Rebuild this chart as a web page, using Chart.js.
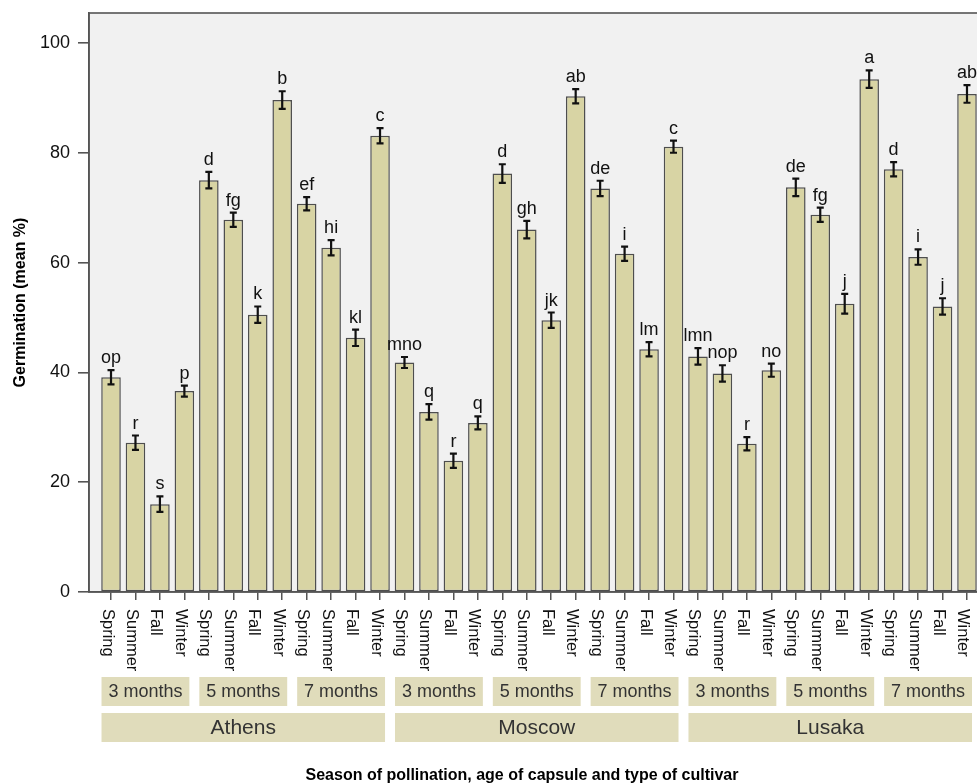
<!DOCTYPE html>
<html>
<head>
<meta charset="utf-8">
<script src="https://cdn.jsdelivr.net/npm/chart.js@4/dist/chart.umd.min.js"></script>
<style>
  html, body { margin: 0; padding: 0; background: #ffffff; overflow: hidden; }
  #wrap { width: 977px; height: 784px; overflow: hidden; position: relative; }
  canvas { display: block; }
</style>
</head>
<body>
<div id="wrap"><canvas id="chart" width="1000" height="784"></canvas></div>
<script>
// Pollination season within each capsule age
const seasons = ['Spring', 'Summer', 'Fall', 'Winter'];
// Capsule ages within each cultivar
const ages = ['3 months', '5 months', '7 months'];
// Cultivars
const cities = ['Athens', 'Moscow', 'Lusaka'];

// Mean germination (%) — order: 3, 5, 7 months × Spring, Summer, Fall, Winter
const athensMeans = [39.1, 27.2, 16.0, 36.6, 75.0, 67.8, 50.5, 89.6, 70.7, 62.7, 46.3, 83.1];
const moscowMeans = [41.8, 32.8, 23.9, 30.8, 76.2, 66.0, 49.5, 90.3, 73.5, 61.6, 44.2, 81.1];
const lusakaMeans = [42.9, 39.8, 27.0, 40.4, 73.7, 68.7, 52.5, 93.4, 77.0, 61.0, 52.0, 90.7];

// Standard errors
const athensErr = [1.3, 1.3, 1.4, 1.0, 1.5, 1.3, 1.5, 1.6, 1.2, 1.4, 1.5, 1.4];
const moscowErr = [1.0, 1.4, 1.3, 1.2, 1.7, 1.6, 1.4, 1.3, 1.4, 1.3, 1.3, 1.1];
const lusakaErr = [1.5, 1.5, 1.2, 1.2, 1.6, 1.3, 1.8, 1.6, 1.3, 1.4, 1.5, 1.6];

// Significance groups
const athensLetters = ['op', 'r', 's', 'p', 'd', 'fg', 'k', 'b', 'ef', 'hi', 'kl', 'c'];
const moscowLetters = ['mno', 'q', 'r', 'q', 'd', 'gh', 'jk', 'ab', 'de', 'i', 'lm', 'c'];
const lusakaLetters = ['lmn', 'nop', 'r', 'no', 'de', 'fg', 'j', 'a', 'd', 'i', 'j', 'ab'];

const yTicks = [0, 20, 40, 60, 80, 100];
const yTitle = 'Germination (mean %)';
const xTitle = 'Season of pollination, age of capsule and type of cultivar';

const means = [...athensMeans, ...moscowMeans, ...lusakaMeans];
const errs = [...athensErr, ...moscowErr, ...lusakaErr];
const letters = [...athensLetters, ...moscowLetters, ...lusakaLetters];
const seasonLabels = [];
cities.forEach(() => ages.forEach(() => seasons.forEach(s => seasonLabels.push(s))));
const points = means.map((v, i) => ({ x: i + 1, y: v }));

const FONT = "'Liberation Sans', Arial, Helvetica, sans-serif";

const decorations = {
  id: 'decorations',
  beforeDraw(chart) {
    const { ctx, chartArea: a } = chart;
    ctx.save();
    ctx.fillStyle = '#f1f1f1';
    ctx.fillRect(a.left, a.top, a.right - a.left, a.bottom - a.top);
    ctx.restore();
  },
  afterDatasetsDraw(chart) {
    const { ctx, chartArea: a } = chart;
    const xs = chart.scales.x, ys = chart.scales.y;
    ctx.save();
    // frame
    ctx.strokeStyle = '#555555';
    ctx.lineWidth = 1.6;
    ctx.strokeRect(a.left, a.top, a.right - a.left, a.bottom - a.top);

    // error bars and group letters
    means.forEach((m, i) => {
      const x = xs.getPixelForValue(i + 1);
      const yT = ys.getPixelForValue(m + errs[i]);
      const yB = ys.getPixelForValue(m - errs[i]);
      ctx.strokeStyle = '#111111';
      ctx.lineWidth = 2.2;
      ctx.beginPath();
      ctx.moveTo(x, yT); ctx.lineTo(x, yB);
      ctx.moveTo(x - 3.5, yT); ctx.lineTo(x + 3.5, yT);
      ctx.moveTo(x - 3.5, yB); ctx.lineTo(x + 3.5, yB);
      ctx.stroke();
      ctx.fillStyle = '#111111';
      ctx.font = '18px ' + FONT;
      ctx.textAlign = 'center';
      ctx.textBaseline = 'alphabetic';
      ctx.fillText(letters[i], x, yT - 7);
    });

    // rotated season labels
    ctx.fillStyle = '#111111';
    ctx.font = '16.5px ' + FONT;
    ctx.textAlign = 'left';
    ctx.textBaseline = 'alphabetic';
    seasonLabels.forEach((s, i) => {
      const x = xs.getPixelForValue(i + 1);
      ctx.save();
      ctx.translate(x, a.bottom + 17);
      ctx.rotate(Math.PI / 2);
      ctx.fillText(s, 0, 8.5);
      ctx.restore();
    });

    // age and cultivar boxes
    const boxFill = '#e0dcbb';
    const ageTop = a.bottom + 85, ageH = 29;
    const cityTop = a.bottom + 121, cityH = 29;
    ctx.textAlign = 'center';
    ctx.textBaseline = 'middle';
    cities.forEach((c, ci) => {
      ages.forEach((g, gi) => {
        const first = ci * 12 + gi * 4 + 1;
        const x0 = xs.getPixelForValue(first) - 9.5;
        const x1 = xs.getPixelForValue(first + 3) + 5;
        ctx.fillStyle = boxFill;
        ctx.fillRect(x0, ageTop, x1 - x0, ageH);
        ctx.fillStyle = '#333333';
        ctx.font = '18px ' + FONT;
        ctx.fillText(g, (x0 + x1) / 2, ageTop + ageH / 2 + 1);
      });
      const x0 = xs.getPixelForValue(ci * 12 + 1) - 9.5;
      const x1 = xs.getPixelForValue(ci * 12 + 12) + 5;
      ctx.fillStyle = boxFill;
      ctx.fillRect(x0, cityTop, x1 - x0, cityH);
      ctx.fillStyle = '#333333';
      ctx.font = '21px ' + FONT;
      ctx.fillText(c, (x0 + x1) / 2, cityTop + cityH / 2 + 1);
    });

    // x axis title
    ctx.fillStyle = '#000000';
    ctx.font = 'bold 16px ' + FONT;
    ctx.textAlign = 'center';
    ctx.textBaseline = 'alphabetic';
    ctx.fillText(xTitle, 522, 779.5);
    ctx.restore();
  }
};

new Chart(document.getElementById('chart'), {
  type: 'bar',
  data: {
    datasets: [{
      data: points,
      backgroundColor: '#d8d4a4',
      borderColor: '#4e4e4e',
      borderWidth: 1.5,
      borderSkipped: false,
      categoryPercentage: 1,
      barPercentage: 0.8
    }]
  },
  options: {
    responsive: false,
    devicePixelRatio: 1,
    animation: false,
    layout: { padding: { top: 13, right: 11, left: 0, bottom: 0 } },
    plugins: { legend: { display: false }, tooltip: { enabled: false } },
    scales: {
      x: {
        type: 'linear',
        position: 'bottom',
        offset: false,
        min: 0.1,
        max: 36.9,
        afterBuildTicks: s => { s.ticks = seasonLabels.map((_, i) => ({ value: i + 1 })); },
        afterFit: s => { s.height = 192; s.paddingLeft = 0; s.paddingRight = 0; },
        ticks: { display: false },
        grid: { offset: false, drawOnChartArea: false, drawTicks: true, tickLength: 8, color: '#555555', lineWidth: 1.5 },
        border: { display: true, color: '#555555', width: 1.6 }
      },
      y: {
        type: 'linear',
        min: 0,
        max: 105.45,
        afterBuildTicks: s => { s.ticks = yTicks.map(v => ({ value: v })); },
        afterFit: s => { s.width = 89; s.paddingTop = 0; s.paddingBottom = 0; },
        ticks: { color: '#111111', font: { family: FONT, size: 18 }, padding: 8 },
        grid: { drawOnChartArea: false, drawTicks: true, tickLength: 11, color: '#555555', lineWidth: 1.6 },
        border: { display: true, color: '#555555', width: 1.6 },
        title: {
          display: true,
          text: yTitle,
          color: '#000000',
          font: { family: FONT, size: 16, weight: 'bold' },
          padding: { top: 11, bottom: 0 }
        }
      }
    }
  },
  plugins: [decorations]
});
</script>
</body>
</html>
